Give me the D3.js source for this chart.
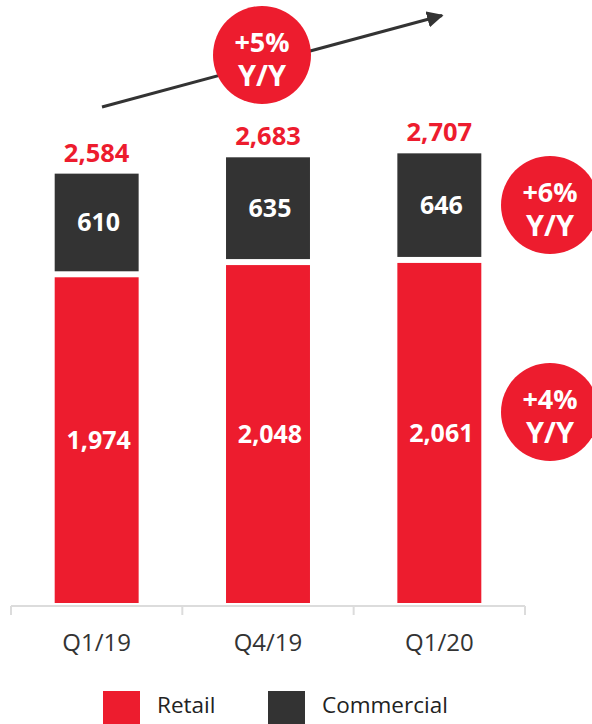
<!DOCTYPE html>
<html>
<head>
<meta charset="utf-8">
<script src="https://cdn.jsdelivr.net/npm/d3@7"></script>
<style>
  html, body { margin: 0; padding: 0; background: #fff; }
  svg { display: block; font-family: "Open Sans", sans-serif; }
</style>
</head>
<body>
<div id="chart"></div>
<script>
// chart data
const quarters = ['Q1/19', 'Q4/19', 'Q1/20'];
const retail = [1974, 2048, 2061];
const commercial = [610, 635, 646];
const totals = [2584, 2683, 2707];
const seriesNames = ['Retail', 'Commercial'];
const badgeLabels = ['+5%', '+6%', '+4%'];

const W = 592, H = 724;
const RED = '#ed1c2e', DARK = '#333333';

const svg = d3.select('#chart').append('svg')
    .attr('width', W)
    .attr('height', H);

// scales
const x = d3.scaleBand()
    .domain(quarters)
    .range([11, 525])
    .paddingInner(0.51)
    .paddingOuter(0.255);

const y = d3.scaleLinear()
    .domain([0, 3000])
    .range([603, 108]);

const fmt = d3.format(',');

const rows = quarters.map((q, i) => ({
    q, retail: retail[i], commercial: commercial[i], total: totals[i]
}));

// retail segment
svg.selectAll('.retail')
    .data(rows)
    .join('rect')
    .attr('class', 'retail')
    .attr('x', d => x(d.q))
    .attr('width', x.bandwidth())
    .attr('y', d => y(d.retail))
    .attr('height', d => y(0) - y(d.retail))
    .attr('fill', RED);

// commercial segment (small white gap above retail)
svg.selectAll('.commercial')
    .data(rows)
    .join('rect')
    .attr('class', 'commercial')
    .attr('x', d => x(d.q))
    .attr('width', x.bandwidth())
    .attr('y', d => y(d.total) - 3)
    .attr('height', d => (y(d.retail) - 6) - (y(d.total) - 3))
    .attr('fill', DARK);

// value labels inside bars
svg.selectAll('.retail-lbl')
    .data(rows)
    .join('text')
    .attr('class', 'retail-lbl')
    .attr('x', d => x(d.q) + x.bandwidth() / 2 + 2)
    .attr('y', d => (y(0) + y(d.retail)) / 2)
    .attr('dy', '0.35em')
    .attr('text-anchor', 'middle')
    .attr('font-size', 25)
    .attr('font-weight', 700)
    .attr('fill', '#fff')
    .text(d => fmt(d.retail));

svg.selectAll('.comm-lbl')
    .data(rows)
    .join('text')
    .attr('class', 'comm-lbl')
    .attr('x', d => x(d.q) + x.bandwidth() / 2 + 2)
    .attr('y', d => ((y(d.total) - 3) + (y(d.retail) - 6)) / 2)
    .attr('dy', '0.35em')
    .attr('text-anchor', 'middle')
    .attr('font-size', 25)
    .attr('font-weight', 700)
    .attr('fill', '#fff')
    .text(d => fmt(d.commercial));

// totals above bars
svg.selectAll('.total-lbl')
    .data(rows)
    .join('text')
    .attr('class', 'total-lbl')
    .attr('x', d => x(d.q) + x.bandwidth() / 2)
    .attr('y', d => y(d.total) - 15)
    .attr('text-anchor', 'middle')
    .attr('font-size', 25.5)
    .attr('font-weight', 700)
    .attr('fill', RED)
    .text(d => fmt(d.total));

// x axis: baseline with ticks at band edges
const axisY = 606;
const axisG = svg.append('g').attr('stroke', '#dcdcdc').attr('stroke-width', 2);
axisG.append('line')
    .attr('x1', x.range()[0]).attr('x2', x.range()[1])
    .attr('y1', axisY).attr('y2', axisY);
axisG.selectAll('.tick')
    .data(d3.range(quarters.length + 1))
    .join('line')
    .attr('x1', i => x.range()[0] + i * x.step())
    .attr('x2', i => x.range()[0] + i * x.step())
    .attr('y1', axisY).attr('y2', axisY + 9);

svg.selectAll('.q-lbl')
    .data(quarters)
    .join('text')
    .attr('class', 'q-lbl')
    .attr('x', d => x(d) + x.bandwidth() / 2)
    .attr('y', 651)
    .attr('text-anchor', 'middle')
    .attr('font-size', 24)
    .attr('fill', DARK)
    .text(d => d);

// growth arrow
svg.append('defs').append('marker')
    .attr('id', 'head')
    .attr('viewBox', '0 0 10 10')
    .attr('refX', 9).attr('refY', 5)
    .attr('markerWidth', 5.5).attr('markerHeight', 5.5)
    .attr('orient', 'auto')
    .append('path')
    .attr('d', 'M0,0L10,5L0,10Z')
    .attr('fill', DARK);

svg.append('line')
    .attr('x1', 102).attr('y1', 107)
    .attr('x2', 442).attr('y2', 15.5)
    .attr('stroke', DARK)
    .attr('stroke-width', 3)
    .attr('marker-end', 'url(#head)');

// Y/Y badges
const badges = [
    { label: badgeLabels[0], cx: 262, cy: 55 },
    { label: badgeLabels[1], cx: 550, cy: 205 },
    { label: badgeLabels[2], cx: 550, cy: 412 }
];
const bg = svg.selectAll('.badge')
    .data(badges)
    .join('g')
    .attr('class', 'badge')
    .attr('transform', d => `translate(${d.cx},${d.cy})`);
bg.append('circle').attr('r', 49).attr('fill', RED);
bg.append('text')
    .attr('y', -3)
    .attr('text-anchor', 'middle')
    .attr('font-size', 27)
    .attr('font-weight', 700)
    .attr('fill', '#fff')
    .text(d => d.label);
bg.append('text')
    .attr('y', 31)
    .attr('text-anchor', 'middle')
    .attr('font-size', 29)
    .attr('font-weight', 700)
    .attr('fill', '#fff')
    .text('Y/Y');

// legend
const legend = svg.selectAll('.legend')
    .data(seriesNames)
    .join('g')
    .attr('class', 'legend')
    .attr('transform', (d, i) => `translate(${[103, 268][i]},691)`);
legend.append('rect')
    .attr('width', 37).attr('height', 37)
    .attr('fill', (d, i) => [RED, DARK][i]);
legend.append('text')
    .attr('x', 54)
    .attr('y', 22)
    .attr('font-size', 22.5)
    .attr('fill', '#222')
    .text(d => d);
</script>
</body>
</html>
